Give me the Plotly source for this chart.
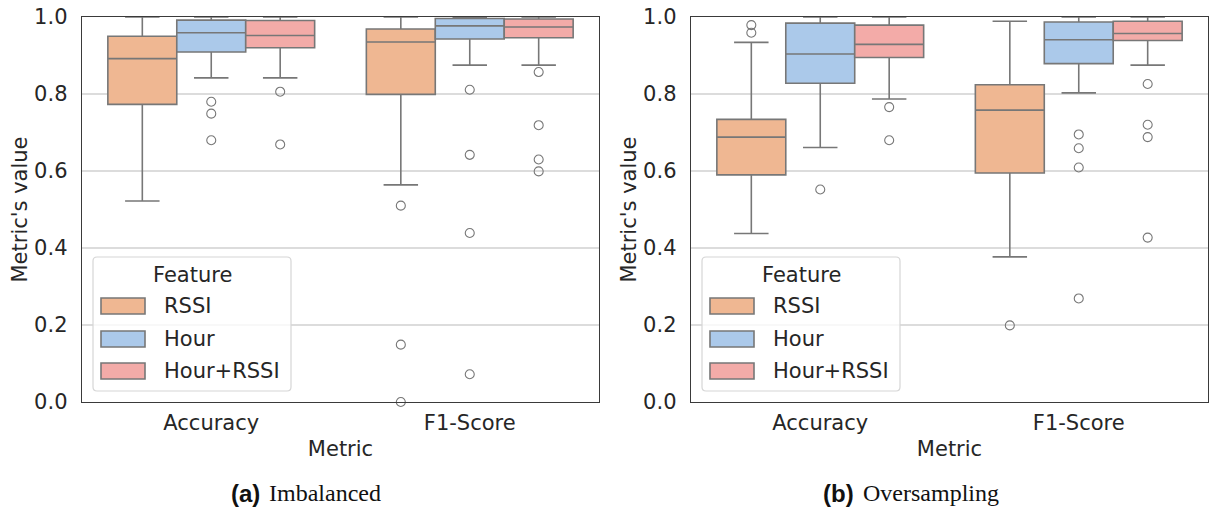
import plotly.graph_objects as go

# ---------------- data ----------------
features = ["RSSI", "Hour", "Hour+RSSI"]
metrics = ["Accuracy", "F1-Score"]

# values indexed [feature][metric]
imb_lower = [[0.522, 0.564], [0.842, 0.875], [0.842, 0.875]]
imb_q1 = [[0.773, 0.799], [0.909, 0.943], [0.920, 0.946]]
imb_median = [[0.892, 0.935], [0.959, 0.977], [0.952, 0.974]]
imb_q3 = [[0.950, 0.969], [0.992, 0.996], [0.991, 0.995]]
imb_upper = [[1.0, 1.0], [1.0, 1.0], [1.0, 1.0]]
imb_outliers = [
    [[], [0.510, 0.149, 0.0]],
    [[0.780, 0.749, 0.680], [0.811, 0.642, 0.439, 0.072]],
    [[0.806, 0.669], [0.857, 0.719, 0.630, 0.599]],
]

ovs_lower = [[0.4375, 0.377], [0.661, 0.803], [0.787, 0.875]]
ovs_q1 = [[0.590, 0.595], [0.828, 0.879], [0.895, 0.939]]
ovs_median = [[0.688, 0.758], [0.904, 0.941], [0.929, 0.957]]
ovs_q3 = [[0.734, 0.824], [0.984, 0.987], [0.979, 0.989]]
ovs_upper = [[0.934, 0.989], [1.0, 1.0], [1.0, 1.0]]
ovs_outliers = [
    [[0.979, 0.959], [0.199]],
    [[0.552], [0.695, 0.659, 0.609, 0.269]],
    [[0.766, 0.680], [0.826, 0.720, 0.688, 0.427]],
]

y_ticks = [0.0, 0.2, 0.4, 0.6, 0.8, 1.0]
captions = [("(a)", "Imbalanced"), ("(b)", "Oversampling")]

# ---------------- style ----------------
W, H = 1219, 512
colors = ["#EFB792", "#ABC9EA", "#F3ABA8"]
line_c = "#777777"
text_c = "#262626"
FONT = "DejaVu Sans"
FS = 21
box_w = 0.8 / 3

def px(x):
    return x / W

def py(y):
    return 1 - y / H

panels = [
    dict(lower=imb_lower, q1=imb_q1, med=imb_median, q3=imb_q3, upper=imb_upper, out=imb_outliers,
         x0=82, x1=599, xa="x", ya="y"),
    dict(lower=ovs_lower, q1=ovs_q1, med=ovs_median, q3=ovs_q3, upper=ovs_upper, out=ovs_outliers,
         x0=691, x1=1208, xa="x2", ya="y2"),
]
top_px, bot_px = 17, 402

fig = go.Figure()
for p in panels:
    for fi, feat in enumerate(features):
        xs = [mi + (fi - 1) * box_w for mi in range(len(metrics))]
        fig.add_trace(go.Box(
            x=xs, q1=p["q1"][fi], median=p["med"][fi], q3=p["q3"][fi],
            lowerfence=p["lower"][fi], upperfence=p["upper"][fi],
            width=box_w, whiskerwidth=0.5, boxpoints=False,
            fillcolor=colors[fi], line=dict(color=line_c, width=1.6),
            name=feat, showlegend=False, xaxis=p["xa"], yaxis=p["ya"],
            hoverinfo="skip",
        ))
        ox, oy = [], []
        for mi in range(len(metrics)):
            for v in p["out"][fi][mi]:
                ox.append(xs[mi])
                oy.append(v)
        if ox:
            fig.add_trace(go.Scatter(
                x=ox, y=oy, mode="markers", showlegend=False,
                marker=dict(symbol="circle-open", size=9, color=line_c, line=dict(width=1.1, color=line_c)),
                xaxis=p["xa"], yaxis=p["ya"], cliponaxis=False, hoverinfo="skip",
            ))

axis_common = dict(showline=True, mirror=True, linecolor="#3a3a3a", linewidth=1.3,
                   zeroline=False, ticks="", automargin=False, ticklabeloverflow="allow",
                   tickfont=dict(family=FONT, size=FS, color=text_c))
layout = dict(
    width=W, height=H, margin=dict(l=0, r=0, t=0, b=0),
    paper_bgcolor="white", plot_bgcolor="white", boxmode="overlay", showlegend=False,
    font=dict(family=FONT, size=FS, color=text_c),
)
for i, p in enumerate(panels):
    sfx = "" if i == 0 else "2"
    layout["xaxis" + sfx] = dict(
        axis_common, domain=[px(p["x0"]), px(p["x1"])], range=[-0.5, 1.5],
        tickvals=list(range(len(metrics))), ticktext=metrics, showgrid=False,
        anchor="y" + sfx, ticklabelstandoff=1,
        title=dict(text="Metric", standoff=7, font=dict(family=FONT, size=FS, color=text_c)),
    )
    layout["yaxis" + sfx] = dict(
        axis_common, domain=[py(bot_px), py(top_px)], range=[0, 1],
        tickvals=y_ticks, tickformat=".1f", showgrid=True, gridcolor="#dcdcdc", gridwidth=1.2,
        anchor="x" + sfx, ticklabelstandoff=9,
        title=dict(text="Metric's value", standoff=0, font=dict(family=FONT, size=FS, color=text_c)),
    )
fig.update_layout(**layout)

# legends (drawn inside each panel, lower left)
shapes, annotations = [], []
for p in panels:
    off = p["x0"] - 82
    bx0, bx1, by0, by1 = 93 + off, 291 + off, 257, 391
    r = 4
    path = (f"M{px(bx0 + r)},{py(by0)} L{px(bx1 - r)},{py(by0)} Q{px(bx1)},{py(by0)} {px(bx1)},{py(by0 + r)} "
            f"L{px(bx1)},{py(by1 - r)} Q{px(bx1)},{py(by1)} {px(bx1 - r)},{py(by1)} "
            f"L{px(bx0 + r)},{py(by1)} Q{px(bx0)},{py(by1)} {px(bx0)},{py(by1 - r)} "
            f"L{px(bx0)},{py(by0 + r)} Q{px(bx0)},{py(by0)} {px(bx0 + r)},{py(by0)} Z")
    shapes.append(dict(type="path", xref="paper", yref="paper", path=path,
                       fillcolor="rgba(255,255,255,0.8)", line=dict(color="#d6d6d6", width=1.2), layer="above"))
    annotations.append(dict(xref="paper", yref="paper", x=px(192 + off), y=py(275), text="Feature",
                            showarrow=False, xanchor="center", yanchor="middle",
                            font=dict(family=FONT, size=FS, color=text_c)))
    for fi, feat in enumerate(features):
        yc = [306, 339, 371][fi]
        shapes.append(dict(type="rect", xref="paper", yref="paper",
                           x0=px(101 + off), x1=px(145 + off), y0=py(yc + 8), y1=py(yc - 8),
                           fillcolor=colors[fi], line=dict(color=line_c, width=1.6), layer="above"))
        annotations.append(dict(xref="paper", yref="paper", x=px(162 + off), y=py(yc), text=feat,
                                showarrow=False, xanchor="left", yanchor="middle",
                                font=dict(family=FONT, size=FS, color=text_c)))

# captions
cap_pos = [(262, 267), (856, 861)]
for (lab, txt), (xr, xl) in zip(captions, cap_pos):
    annotations.append(dict(xref="paper", yref="paper", x=px(xr), y=py(493), text=f"<b>{lab}</b>",
                            showarrow=False, xanchor="right", yanchor="middle",
                            font=dict(family="Liberation Sans", size=24, color="#111111")))
    annotations.append(dict(xref="paper", yref="paper", x=px(xl), y=py(493), text=txt,
                            showarrow=False, xanchor="left", yanchor="middle",
                            font=dict(family="Liberation Serif", size=24, color="#111111")))

fig.update_layout(shapes=shapes, annotations=annotations)
fig.write_html(
    "out.html",
    config={"displayModeBar": False, "staticPlot": True},
    post_script="document.body.style.margin='0';document.body.style.overflow='hidden';",
)
